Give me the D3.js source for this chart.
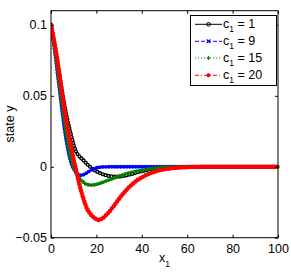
<!DOCTYPE html>
<html><head><meta charset="utf-8">
<script src="https://cdn.jsdelivr.net/npm/d3@7/dist/d3.min.js"></script>
<style>
body{margin:0;background:#fff;}
text{font-family:"Liberation Sans",Arial,sans-serif;fill:#000;}
</style></head><body>
<div id="chart"></div>
<script>
// ---- data ----
const c1Labels = ["1", "9", "15", "20"];
const xTicks = [0, 20, 40, 60, 80, 100];
const yTicks = [-0.05, 0, 0.05, 0.1];
const yTickLabels = ["\u22120.05", "0", "0.05", "0.1"];

const xBlack = [0,1,2,3,4,5,6,7,8,9,10,11,12,13,14,15,16,17,18,20,22,24,26,28,30,32,35,38,41,44,48,52,56,60,65,70,80,90,100];
const yBlack = [0.1,0.091,0.082,0.072,0.062,0.052,0.043,0.035,0.028,0.0215,0.0155,0.0108,0.0082,0.0065,0.005,0.0033,0.0017,0.0003,-0.0012,-0.0033,-0.0048,-0.0059,-0.0066,-0.0069,-0.0069,-0.0065,-0.0054,-0.004,-0.0028,-0.0018,-0.001,-0.0005,-0.0002,-0.0001,0,0,0,0,0];

const xBlue = [0,1,2,3,4,5,6,7,8,9,10,11,12,13,14,15,16,17,18,20,22,25,30,40,50,60,70,80,90,100];
const yBlue = [0.1,0.089,0.077,0.064,0.051,0.038,0.026,0.016,0.008,0.002,-0.0015,-0.004,-0.0055,-0.006,-0.0058,-0.005,-0.004,-0.003,-0.002,-0.0008,-0.0002,0,0,0,0,0,0,0,0,0];

const xGreen = [0,1,2,3,4,5,6,7,8,9,10,11,12,13,14,15,16,17,18,19,20,22,24,26,28,30,33,36,40,44,48,52,56,60,70,80,90,100];
const yGreen = [0.1,0.09,0.079,0.067,0.055,0.043,0.031,0.021,0.012,0.005,-0.0005,-0.004,-0.0065,-0.009,-0.0105,-0.0118,-0.0125,-0.0128,-0.0129,-0.0127,-0.0124,-0.0114,-0.0102,-0.009,-0.0078,-0.0066,-0.005,-0.0037,-0.0025,-0.0013,-0.0006,-0.0003,-0.0001,0,0,0,0,0];

const xRed = [0,1,2,3,4,5,6,7,8,9,10,11,12,13,14,15,16,17,18,19,20,21,22,23,24,26,28,30,32,34,36,38,40,43,46,50,55,60,65,70,80,90,100];
const yRed = [0.1,0.092,0.083,0.073,0.062,0.051,0.04,0.03,0.021,0.013,0.005,-0.002,-0.009,-0.0155,-0.021,-0.026,-0.03,-0.0325,-0.0345,-0.036,-0.037,-0.0375,-0.037,-0.036,-0.0345,-0.031,-0.027,-0.0225,-0.0185,-0.015,-0.012,-0.0095,-0.0075,-0.005,-0.0033,-0.0018,-0.0008,-0.0003,-0.0001,0,0,0,0];

// ---- series styling table built from the arrays ----
const series = [
  {label: c1Labels[0], xs: xBlack, ys: yBlack, color: "#000000", dash: null, marker: "circle", band: 4.2},
  {label: c1Labels[1], xs: xBlue,  ys: yBlue,  color: "#0000ff", dash: "4,2", marker: "x", band: 3.8},
  {label: c1Labels[2], xs: xGreen, ys: yGreen, color: "#008000", dash: "1,2", marker: "plus", band: 3.8},
  {label: c1Labels[3], xs: xRed,   ys: yRed,   color: "#ff0000", dash: "4,2,1,2", marker: "star", band: 4.5}
];

const W = 291, H = 273;
const m = {left: 51, top: 10.7, right: 13, bottom: 35.3};
const iw = W - m.left - m.right, ih = H - m.top - m.bottom;

const svg = d3.select("#chart").append("svg").attr("width", W).attr("height", H);
const g = svg.append("g").attr("transform", `translate(${m.left},${m.top})`);

const x = d3.scaleLinear().domain([0, 100]).range([0, iw]);
const y = d3.scaleLinear().domain([-0.05, 0.11]).range([ih, 0]);

svg.append("defs").append("clipPath").attr("id", "clip")
  .append("rect").attr("x", 0).attr("y", -3).attr("width", iw + 3).attr("height", ih + 3);

const line = d3.line().x(d => x(d[0])).y(d => y(d[1])).curve(d3.curveMonotoneX);

const plot = g.append("g").attr("clip-path", "url(#clip)");
series.forEach(s => {
  const pts = s.xs.map((v, i) => [v, s.ys[i]]);
  const d = line(pts);
  plot.append("path").attr("d", d).attr("fill", "none").attr("stroke", s.color)
    .attr("stroke-width", 1).attr("stroke-dasharray", s.dash);
  plot.append("path").attr("d", d).attr("fill", "none").attr("stroke", s.color)
    .attr("stroke-width", s.band).attr("stroke-linecap", "round")
    .attr("stroke-dasharray", "0,3");
  if (s.marker === "circle") {
    plot.append("path").attr("d", d).attr("fill", "none").attr("stroke", "#fff")
      .attr("stroke-width", 1.5).attr("stroke-linecap", "round")
      .attr("stroke-dasharray", "0,3");
  }
});

// axes box and ticks (inward, all four sides)
const tl = 3;
g.append("rect").attr("x", 0).attr("y", 0).attr("width", iw).attr("height", ih)
  .attr("fill", "none").attr("stroke", "#000").attr("stroke-width", 1);

const xb = g.append("g").attr("transform", `translate(0,${ih})`)
  .call(d3.axisBottom(x).tickValues(xTicks).tickSize(-tl).tickPadding(6).tickFormat(d3.format("d")));
const xt = g.append("g")
  .call(d3.axisTop(x).tickValues(xTicks).tickSize(-tl).tickFormat(""));
const yl = g.append("g")
  .call(d3.axisLeft(y).tickValues(yTicks).tickSize(-tl).tickPadding(4).tickFormat((d, i) => yTickLabels[i]));
const yr = g.append("g").attr("transform", `translate(${iw},0)`)
  .call(d3.axisRight(y).tickValues(yTicks).tickSize(-tl).tickFormat(""));
[xb, xt, yl, yr].forEach(a => {
  a.select(".domain").remove();
  a.selectAll("line").attr("stroke", "#000");
  a.selectAll("text").attr("font-size", "12.5px").attr("font-family", "Liberation Sans, Arial, sans-serif").attr("fill", "#000");
});
xb.selectAll("text").attr("dy", "0.71em");

// axis labels
const xlab = svg.append("text").attr("x", m.left + iw / 2).attr("y", 262)
  .attr("text-anchor", "middle").attr("font-size", "12.5px");
xlab.append("tspan").text("x");
xlab.append("tspan").attr("dy", 5).attr("font-size", "8.5px").text("1");

svg.append("text").attr("transform", `translate(14,124) rotate(-90)`)
  .attr("text-anchor", "middle").attr("font-size", "12.5px").text("state y");

// legend
const lg = svg.append("g");
lg.append("rect").attr("x", 190.5).attr("y", 15.5).attr("width", 86).attr("height", 70)
  .attr("fill", "#fff").attr("stroke", "#000").attr("stroke-width", 1);
const rowY = [24.3, 41.3, 58, 75.3];
series.forEach((s, i) => {
  const yy = rowY[i];
  lg.append("line").attr("x1", 195).attr("x2", 222).attr("y1", yy).attr("y2", yy)
    .attr("stroke", s.color).attr("stroke-width", 1).attr("stroke-dasharray", s.dash);
  const cx = 208.5;
  if (s.marker === "circle") {
    lg.append("circle").attr("cx", cx).attr("cy", yy).attr("r", 1.8)
      .attr("fill", "none").attr("stroke", s.color).attr("stroke-width", 1);
  } else if (s.marker === "x") {
    lg.append("path").attr("d", `M${cx-1.8},${yy-1.8}L${cx+1.8},${yy+1.8}M${cx-1.8},${yy+1.8}L${cx+1.8},${yy-1.8}`)
      .attr("stroke", s.color).attr("stroke-width", 1.2);
  } else if (s.marker === "plus") {
    lg.append("path").attr("d", `M${cx-2},${yy}L${cx+2},${yy}M${cx},${yy-2}L${cx},${yy+2}`)
      .attr("stroke", s.color).attr("stroke-width", 1.2);
  } else {
    lg.append("circle").attr("cx", cx).attr("cy", yy).attr("r", 2).attr("fill", s.color);
  }
  const t = lg.append("text").attr("x", 223).attr("y", yy + 3.5).attr("font-size", "12.5px");
  t.append("tspan").text("c");
  t.append("tspan").attr("dy", 4).attr("font-size", "8.5px").text("1");
  t.append("tspan").attr("dy", -4).text(" = " + s.label);
});
</script>
</body></html>
